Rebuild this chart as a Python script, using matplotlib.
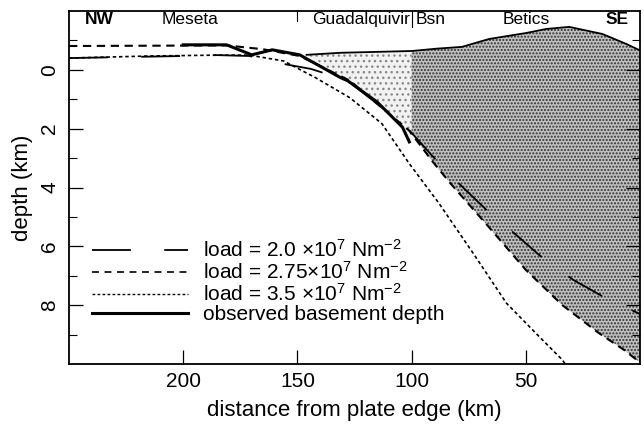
import numpy as np
import matplotlib
matplotlib.use("Agg")
import matplotlib.pyplot as plt
from matplotlib.patches import Polygon
from matplotlib.lines import Line2D

plt.rcParams['font.family'] = ['Liberation Sans', 'DejaVu Sans']
plt.rcParams['mathtext.fontset'] = 'custom'
plt.rcParams['mathtext.rm'] = 'Liberation Sans'
plt.rcParams['mathtext.it'] = 'Liberation Sans:italic'
plt.rcParams['mathtext.bf'] = 'Liberation Sans:bold'
plt.rcParams['lines.scale_dashes'] = False
plt.rcParams['hatch.linewidth'] = 1.0

# ---- data (distance from plate edge in km, depth in km; negative = elevation) ----
surf_x = [146, 131, 100, 89, 78, 66, 50, 41, 31, 16.5, 6, 0]
surf_d = [-0.51, -0.58, -0.64, -0.72, -0.78, -1.05, -1.25, -1.39, -1.46, -1.22, -0.88, -0.66]

obs_x = [200, 181, 170, 161, 149, 131, 128, 115, 104, 101]
obs_d = [-0.85, -0.85, -0.51, -0.68, -0.51, 0.27, 0.37, 1.1, 1.95, 2.45]

m20_x = [250, 200, 185, 171, 161, 144, 128, 114, 102, 91, 82, 67, 55, 43, 29, 15, 0]
m20_d = [-0.4, -0.47, -0.5, -0.47, -0.27, -0.03, 0.37, 1.22, 1.97, 2.92, 3.66, 4.78, 5.56, 6.37, 7.15, 7.76, 8.3]

m275_x = [250, 215, 181, 165, 149, 127, 113, 101, 91, 83, 66, 50, 34, 18, 7, 0]
m275_d = [-0.81, -0.82, -0.83, -0.7, -0.47, 0.37, 1.29, 2.07, 3.1, 3.86, 5.36, 6.8, 8.0, 8.95, 9.52, 9.95]

m35_x = [250, 215, 185, 171, 156, 142, 127, 113, 101, 88, 73, 58.5, 44, 34, 31]
m35_d = [-0.4, -0.47, -0.5, -0.5, -0.3, 0.27, 0.95, 1.83, 3.19, 4.54, 6.24, 7.93, 9.08, 9.86, 10.2]

labels = [r'load = 2.0 $\times$10$^7$ Nm$^{-2}$',
          r'load = 2.75$\times$10$^7$ Nm$^{-2}$',
          r'load = 3.5 $\times$10$^7$ Nm$^{-2}$',
          'observed basement depth']

region_names = ['Meseta', 'Guadalquivir', 'Bsn', 'Betics']
region_x = [197, 100.6, 98.4, 50]
basin_edge = 100

fig = plt.figure(figsize=(6.44, 4.29), dpi=100)
ax = fig.add_axes([69/644, 65/429, 571/644, 353/429])
ax.set_xlim(250, 0)
ax.set_ylim(10, -2)

# light stipple: Guadalquivir basin fill (surface over observed basement)
sx = np.array(surf_x[::-1]); sd = np.array(surf_d[::-1])
ox = np.array(obs_x[::-1]); od = np.array(obs_d[::-1])
top_l = [(x, d) for x, d in zip(surf_x, surf_d) if x >= basin_edge]
bot_l = [(x, d) for x, d in zip(obs_x, obs_d) if basin_edge <= x <= 146]
poly_l = top_l + [(basin_edge, np.interp(basin_edge, ox, od))] + bot_l[::-1]
ax.add_patch(Polygon(poly_l, closed=True, facecolor='#f2f2f2', edgecolor='#8a8a8a',
                     hatch='...', lw=0, zorder=1))

# dark stipple: Betics (surface over 2.75 model)
mx = np.array(m275_x[::-1]); md = np.array(m275_d[::-1])
top_d = [(basin_edge, np.interp(basin_edge, sx, sd))] + [(x, d) for x, d in zip(surf_x, surf_d) if x < basin_edge]
bot_d = [(basin_edge, np.interp(basin_edge, mx, md))] + [(x, d) for x, d in zip(m275_x, m275_d) if x < basin_edge]
poly_d = top_d + bot_d[::-1]
ax.add_patch(Polygon(poly_d, closed=True, facecolor='#c0c0c0', edgecolor='#303030',
                     hatch='.....', lw=0, zorder=1))

# surface line
ax.plot(surf_x, surf_d, color='k', lw=1.3, zorder=3)

ls20 = (0, (28, 24))
ls275 = (0, (6, 4))
ls35 = (0, (2.5, 2))
ax.plot(m20_x, m20_d, color='k', lw=1.3, linestyle=ls20, zorder=4)
ax.plot(m275_x, m275_d, color='k', lw=1.5, linestyle=ls275, zorder=4)
ax.plot(m35_x, m35_d, color='k', lw=1.2, linestyle=ls35, zorder=4)
ax.plot(obs_x, obs_d, color='k', lw=2.2, zorder=5)

# separators and region labels
ax.plot([150, 150], [-2, -1.65], color='k', lw=0.8)
ax.plot([100, 100], [-2, -1.45], color='k', lw=0.8)
ty = -1.72
fs_top = 12.5
ax.text(243, ty, 'NW', fontsize=fs_top, fontweight='bold', ha='left', va='center')
ax.text(region_x[0], ty, region_names[0], fontsize=fs_top, ha='center', va='center')
ax.text(region_x[1], ty, region_names[1], fontsize=fs_top, ha='right', va='center')
ax.text(region_x[2], ty, region_names[2], fontsize=fs_top, ha='left', va='center')
ax.text(region_x[3], ty, region_names[3], fontsize=fs_top, ha='center', va='center')
ax.text(5, ty, 'SE', fontsize=fs_top, fontweight='bold', ha='right', va='center')

# ticks
ax.set_xticks([200, 150, 100, 50])
ax.set_yticks([0, 2, 4, 6, 8])
ax.set_yticks([-1, 1, 3, 5, 7, 9], minor=True)
ax.tick_params(axis='both', which='major', direction='in', length=10, width=0.9,
               labelsize=15, right=True)
ax.tick_params(axis='y', which='minor', direction='in', length=6, width=0.8, right=True)
ax.tick_params(axis='x', pad=6)
ax.tick_params(axis='y', pad=7)
for lab in ax.get_yticklabels():
    lab.set_rotation(90)
    lab.set_va('center')
for s in ax.spines.values():
    s.set_linewidth(1.3)

ax.set_xlabel('distance from plate edge (km)', fontsize=16, labelpad=6)
ax.set_ylabel('depth (km)', fontsize=16, labelpad=5)

handles = [Line2D([], [], color='k', lw=1.3, linestyle=ls20),
           Line2D([], [], color='k', lw=1.2, linestyle=(0, (5, 4))),
           Line2D([], [], color='k', lw=1.0, linestyle=(0, (2, 1.6))),
           Line2D([], [], color='k', lw=2.2)]
ax.legend(handles, labels, loc='upper left', bbox_to_anchor=(0.04, 0.353),
          frameon=False, fontsize=15, handlelength=4.6, handletextpad=0.75,
          labelspacing=0.0, borderpad=0, borderaxespad=0)

fig.savefig('out.png', dpi=100)
